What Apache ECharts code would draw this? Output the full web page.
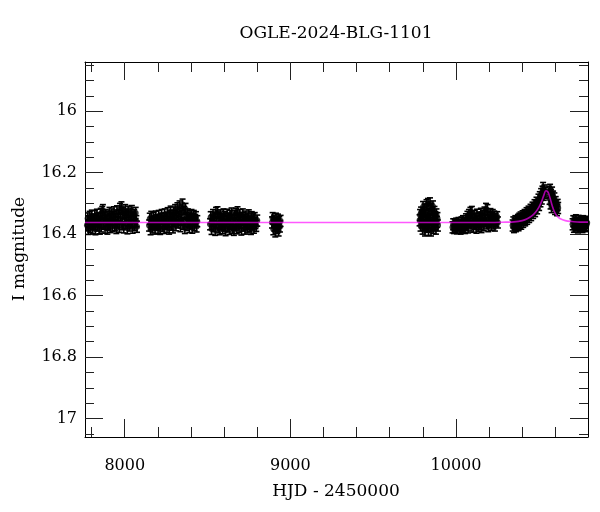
<!DOCTYPE html>
<html>
<head>
<meta charset="utf-8">
<script src="https://cdn.jsdelivr.net/npm/echarts@6/dist/echarts.min.js"></script>
<style>html,body{margin:0;padding:0;background:#fff}#chart{width:600px;height:512px}</style>
</head>
<body>
<div id="chart"></div>
<script>
// ---- data ----
const chartTitle = 'OGLE-2024-BLG-1101';
const xTitle = 'HJD - 2450000';
const yTitle = 'I magnitude';
const xMajorTicks = [8000, 9000, 10000];
const xMinorTicks = [7800, 8200, 8400, 8600, 8800, 9200, 9400, 9600, 9800, 10200, 10400, 10600];
const yMajorTicks = [16, 16.2, 16.4, 16.6, 16.8, 17];
const yMinorTicks = [15.85, 15.9, 15.95, 16.05, 16.1, 16.15, 16.25, 16.3, 16.35, 16.45, 16.5, 16.55,
  16.65, 16.7, 16.75, 16.85, 16.9, 16.95, 17.05];
const magError = 0.018;

const season1 = [[7772,16.371],[7776,16.349],[7780,16.383],[7784,16.358],[7788,16.344],[7792,16.376],[7797,16.362],[7801,16.340],[7805,16.380],[7810,16.353],[7814,16.368],[7819,16.342],[7823,16.384],[7828,16.356],[7832,16.337],[7837,16.372],[7841,16.349],[7846,16.381],[7850,16.360],[7855,16.334],[7859,16.375],[7864,16.328],[7868,16.322],[7872,16.366],[7877,16.346],[7881,16.379],[7886,16.338],[7890,16.358],[7895,16.382],[7899,16.343],[7904,16.369],[7908,16.331],[7913,16.377],[7917,16.352],[7922,16.336],[7926,16.374],[7931,16.345],[7935,16.329],[7940,16.371],[7944,16.352],[7949,16.380],[7953,16.326],[7958,16.361],[7962,16.340],[7967,16.376],[7971,16.318],[7976,16.349],[7980,16.313],[7985,16.368],[7989,16.330],[7994,16.378],[7998,16.344],[8003,16.322],[8007,16.365],[8012,16.337],[8016,16.381],[8021,16.327],[8025,16.356],[8030,16.372],[8034,16.333],[8039,16.362],[8043,16.325],[8048,16.379],[8052,16.347],[8057,16.338],[8061,16.370],[8066,16.331],[8070,16.358],[8074,16.376]];
const season2 = [[8147,16.372],[8151,16.350],[8156,16.384],[8160,16.344],[8165,16.366],[8169,16.378],[8174,16.347],[8178,16.361],[8183,16.382],[8187,16.343],[8192,16.370],[8196,16.355],[8201,16.379],[8205,16.341],[8210,16.364],[8214,16.383],[8219,16.350],[8223,16.338],[8228,16.373],[8232,16.357],[8237,16.380],[8241,16.336],[8246,16.366],[8250,16.348],[8255,16.377],[8259,16.332],[8264,16.360],[8268,16.382],[8273,16.341],[8277,16.327],[8282,16.369],[8286,16.349],[8291,16.378],[8295,16.330],[8300,16.356],[8304,16.322],[8309,16.371],[8313,16.339],[8318,16.316],[8322,16.362],[8327,16.345],[8331,16.310],[8336,16.374],[8340,16.333],[8345,16.353],[8349,16.304],[8354,16.366],[8358,16.328],[8363,16.380],[8367,16.318],[8372,16.348],[8376,16.370],[8381,16.336],[8385,16.359],[8390,16.377],[8394,16.342],[8399,16.365],[8403,16.338],[8408,16.379],[8412,16.350],[8417,16.341],[8421,16.371],[8426,16.354],[8430,16.345],[8434,16.375],[8438,16.358]];
const season3 = [[8515,16.368],[8519,16.345],[8524,16.383],[8528,16.356],[8533,16.338],[8537,16.374],[8542,16.349],[8546,16.386],[8551,16.331],[8555,16.362],[8560,16.329],[8564,16.378],[8569,16.346],[8573,16.384],[8578,16.339],[8582,16.367],[8587,16.352],[8591,16.381],[8596,16.336],[8600,16.372],[8605,16.344],[8609,16.387],[8614,16.358],[8618,16.337],[8623,16.375],[8627,16.350],[8632,16.383],[8636,16.341],[8641,16.366],[8645,16.333],[8650,16.379],[8654,16.355],[8659,16.386],[8663,16.340],[8668,16.369],[8672,16.334],[8677,16.381],[8681,16.329],[8686,16.357],[8690,16.376],[8695,16.338],[8699,16.363],[8704,16.385],[8708,16.347],[8713,16.336],[8717,16.372],[8722,16.353],[8726,16.382],[8731,16.343],[8735,16.367],[8740,16.378],[8744,16.349],[8749,16.339],[8753,16.374],[8758,16.360],[8762,16.383],[8767,16.345],[8771,16.368],[8776,16.352],[8780,16.379],[8785,16.348],[8789,16.364],[8794,16.373],[8800,16.356]];
const season4 = [[8889,16.362],[8893,16.348],[8897,16.384],[8901,16.356],[8905,16.372],[8909,16.391],[8913,16.350],[8917,16.366],[8921,16.380],[8925,16.353],[8929,16.388],[8933,16.361],[8937,16.375],[8941,16.357]];
const season5 = [[9780,16.355],[9783,16.338],[9786,16.372],[9789,16.330],[9792,16.362],[9795,16.342],[9798,16.382],[9801,16.312],[9804,16.350],[9807,16.370],[9810,16.320],[9813,16.388],[9816,16.338],[9819,16.358],[9822,16.306],[9825,16.376],[9828,16.346],[9831,16.302],[9834,16.386],[9837,16.334],[9840,16.364],[9843,16.300],[9846,16.352],[9849,16.388],[9852,16.318],[9855,16.372],[9858,16.340],[9861,16.310],[9864,16.380],[9867,16.356],[9870,16.328],[9873,16.368],[9876,16.345],[9879,16.382],[9882,16.336],[9885,16.360],[9888,16.348],[9891,16.372]];
const season6 = [[9979,16.378],[9983,16.368],[9988,16.380],[9992,16.371],[9997,16.376],[10001,16.366],[10006,16.381],[10010,16.372],[10015,16.364],[10019,16.379],[10024,16.369],[10028,16.382],[10033,16.362],[10037,16.374],[10042,16.358],[10046,16.377],[10051,16.365],[10055,16.380],[10060,16.352],[10064,16.371],[10069,16.344],[10073,16.378],[10078,16.338],[10082,16.362],[10087,16.331],[10091,16.372],[10096,16.328],[10100,16.355],[10105,16.376],[10109,16.342],[10114,16.366],[10118,16.350],[10123,16.379],[10127,16.337],[10132,16.360],[10136,16.373],[10141,16.346],[10145,16.368],[10150,16.334],[10154,16.377],[10159,16.352],[10163,16.340],[10168,16.371],[10172,16.330],[10177,16.357],[10181,16.318],[10186,16.365],[10190,16.322],[10195,16.374],[10199,16.344],[10204,16.360],[10208,16.335],[10213,16.370],[10217,16.348],[10222,16.338],[10226,16.365],[10231,16.343],[10235,16.372],[10240,16.350],[10244,16.356],[10249,16.345],[10253,16.362]];
const season7 = [[10342,16.372],[10346,16.362],[10350,16.377],[10354,16.366],[10358,16.358],[10362,16.374],[10366,16.360],[10370,16.369],[10374,16.354],[10378,16.371],[10382,16.350],[10386,16.363],[10390,16.346],[10394,16.366],[10398,16.352],[10402,16.342],[10406,16.360],[10410,16.347],[10414,16.338],[10418,16.355],[10422,16.343],[10426,16.332],[10430,16.350],[10434,16.336],[10438,16.327],[10442,16.344],[10446,16.330],[10450,16.321],[10454,16.338],[10458,16.323],[10462,16.314],[10466,16.331],[10470,16.318],[10474,16.306],[10478,16.325],[10482,16.310],[10486,16.298],[10490,16.316],[10494,16.300],[10498,16.288],[10502,16.305],[10506,16.280],[10510,16.293],[10514,16.270],[10518,16.284],[10522,16.262],[10526,16.250],[10530,16.272],[10534,16.258],[10538,16.266],[10562,16.262],[10565,16.285],[10568,16.256],[10571,16.300],[10574,16.272],[10577,16.312],[10580,16.265],[10583,16.290],[10586,16.278],[10590,16.305],[10594,16.284],[10598,16.318],[10602,16.296],[10606,16.310],[10610,16.322],[10614,16.305],[10617,16.315]];
const season8 = [[10704,16.368],[10708,16.358],[10712,16.376],[10716,16.362],[10720,16.372],[10724,16.355],[10728,16.370],[10732,16.364],[10736,16.378],[10740,16.357],[10744,16.368],[10748,16.374],[10752,16.360],[10756,16.371],[10760,16.363],[10764,16.377],[10768,16.358],[10772,16.369],[10776,16.365],[10780,16.374],[10784,16.360],[10788,16.370],[10792,16.363]];

const modelT   = [7760, 9000, 10200, 10300, 10350, 10400, 10430, 10460, 10480, 10500, 10515, 10530, 10543, 10555, 10567, 10580, 10595, 10610, 10630, 10660, 10700, 10750, 10797];
const modelMag = [16.362, 16.362, 16.362, 16.361, 16.360, 16.356, 16.350, 16.340, 16.329, 16.313, 16.296, 16.274, 16.259, 16.263, 16.281, 16.306, 16.328, 16.341, 16.350, 16.356, 16.359, 16.361, 16.361];

// ---- build ----
const allObs = [].concat(season1, season2, season3, season4, season5, season6, season7, season8);
const errData = allObs.map(p => [p[0], p[1], magError]);
const modelData = modelT.map((t, i) => [t, modelMag[i]]);

const FONT = 'DejaVu Serif';
const X_MIN = 7760, X_MAX = 10797, Y_MIN = 15.84, Y_MAX = 17.06;
const lineStyle = { color: '#000', width: 1 };

function xAx(pos, ticks, len, labels, line) {
  return {
    type: 'value', position: pos, min: X_MIN, max: X_MAX, gridIndex: 0,
    axisLine: { show: line, onZero: false, lineStyle },
    axisTick: { show: true, inside: true, length: len, customValues: ticks, lineStyle: { color: '#222', width: 1 } },
    axisLabel: labels ? { show: true, customValues: ticks, margin: 21, color: '#000', fontFamily: FONT, fontSize: 16,
      formatter: v => String(Math.round(v)) } : { show: false },
    splitLine: { show: false }
  };
}
function yAx(pos, ticks, len, labels, line) {
  return {
    type: 'value', position: pos, min: Y_MIN, max: Y_MAX, inverse: true, gridIndex: 0,
    axisLine: { show: line, onZero: false, lineStyle },
    axisTick: { show: true, inside: true, length: len, customValues: ticks, lineStyle: { color: '#222', width: 1 } },
    axisLabel: labels ? { show: true, customValues: ticks, margin: 8, color: '#000', fontFamily: FONT, fontSize: 16,
      formatter: v => String(+v.toFixed(2)) } : { show: false },
    splitLine: { show: false }
  };
}

const chart = echarts.init(document.getElementById('chart'), null, { renderer: 'canvas' });
chart.setOption({
  animation: false,
  backgroundColor: '#fff',
  grid: { left: 85, right: 12, top: 62, bottom: 75, containLabel: false },
  xAxis: [
    xAx('bottom', xMajorTicks, 18, true, true),
    xAx('bottom', xMinorTicks, 10, false, false),
    xAx('top', xMajorTicks, 18, false, true),
    xAx('top', xMinorTicks, 10, false, false)
  ],
  yAxis: [
    yAx('left', yMajorTicks, 18, true, true),
    yAx('left', yMinorTicks, 9, false, false),
    yAx('right', yMajorTicks, 18, false, true),
    yAx('right', yMinorTicks, 9, false, false)
  ],
  graphic: [
    { type: 'text', x: 336, y: 34, style: { text: chartTitle, textAlign: 'center', textVerticalAlign: 'middle', font: '17px "DejaVu Serif"', fill: '#000' } },
    { type: 'text', x: 336, y: 492, style: { text: xTitle, textAlign: 'center', textVerticalAlign: 'middle', font: '17px "DejaVu Serif"', fill: '#000' } },
    { type: 'text', x: 20, y: 249, rotation: Math.PI / 2, style: { text: yTitle, textAlign: 'center', textVerticalAlign: 'middle', font: '17px "DejaVu Serif"', fill: '#000' } }
  ],
  series: [
    {
      type: 'custom', xAxisIndex: 0, yAxisIndex: 0, data: errData, clip: true, z: 2,
      renderItem: function (params, api) {
        const t = api.value(0), m = api.value(1), e = api.value(2);
        const a = api.coord([t, m - e]);
        const b = api.coord([t, m + e]);
        const hw = 3;
        const st = { stroke: '#000', lineWidth: 1.6 };
        return {
          type: 'group', children: [
            { type: 'line', shape: { x1: a[0], y1: a[1], x2: b[0], y2: b[1] }, style: st },
            { type: 'line', shape: { x1: a[0] - hw, y1: a[1], x2: a[0] + hw, y2: a[1] }, style: st },
            { type: 'line', shape: { x1: b[0] - hw, y1: b[1], x2: b[0] + hw, y2: b[1] }, style: st }
          ]
        };
      }
    },
    {
      type: 'scatter', xAxisIndex: 0, yAxisIndex: 0, data: allObs, symbol: 'circle', symbolSize: 6,
      itemStyle: { color: '#000' }, z: 3
    },
    {
      type: 'line', xAxisIndex: 0, yAxisIndex: 0, data: modelData, showSymbol: false, smooth: 0.4,
      lineStyle: { color: '#ff00ff', width: 1.6, opacity: 0.65 }, z: 5
    }
  ]
});
</script>
</body>
</html>
